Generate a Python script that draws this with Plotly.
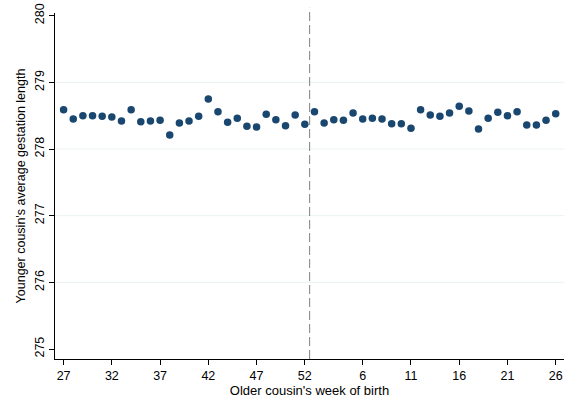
import plotly.graph_objects as go

# Older cousin's week of birth, running from week 27 through the year end to week 26
weeks = [27, 28, 29, 30, 31, 32, 33, 34, 35, 36, 37, 38, 39, 40, 41, 42, 43, 44, 45, 46,
         47, 48, 49, 50, 51, 52, 1, 2, 3, 4, 5, 6, 7, 8, 9, 10, 11, 12, 13, 14, 15, 16,
         17, 18, 19, 20, 21, 22, 23, 24, 25, 26]

# Younger cousin's average gestation length (days)
gestation = [278.59, 278.45, 278.50, 278.50, 278.49, 278.48, 278.42, 278.59, 278.41, 278.42,
             278.43, 278.21, 278.39, 278.42, 278.49, 278.75, 278.56, 278.40, 278.46, 278.34,
             278.33, 278.52, 278.44, 278.35, 278.51, 278.37,
             278.56, 278.39, 278.44, 278.43, 278.54, 278.45, 278.46, 278.45, 278.38, 278.38,
             278.31, 278.59, 278.51, 278.49, 278.54, 278.64, 278.57, 278.30, 278.46, 278.55,
             278.50, 278.56, 278.36, 278.36, 278.43, 278.53]

x_ticks = [27, 32, 37, 42, 47, 52, 6, 11, 16, 21, 26]
y_ticks = [275, 276, 277, 278, 279, 280]
y_grid = [276, 277, 278, 279]
cutoff_after_week = 52

FONT = "Liberation Sans, Arial, sans-serif"
NAVY = "#1a476f"

labels = [str(w) for w in weeks]

fig = go.Figure()
fig.add_trace(go.Scatter(
    x=labels, y=gestation, mode="markers",
    marker=dict(color=NAVY, size=7.5, line=dict(width=0)),
    hoverinfo="x+y", showlegend=False,
))

shapes = []
for g in y_grid:
    shapes.append(dict(type="line", xref="paper", yref="y", x0=0, x1=1, y0=g, y1=g,
                       line=dict(color="#eaf2f3", width=1), layer="below"))
cut_idx = labels.index(str(cutoff_after_week)) + 0.5
shapes.append(dict(type="line", xref="x", yref="paper", x0=cut_idx, x1=cut_idx,
                   y0=0, y1=1.015, line=dict(color="#808080", width=1, dash="9px,4px")))

fig.update_layout(
    width=564, height=400,
    margin=dict(l=55, r=0, t=13, b=41),
    paper_bgcolor="white", plot_bgcolor="white",
    font=dict(family=FONT, size=13, color="black"),
    shapes=shapes,
    xaxis=dict(
        type="category", categoryorder="array", categoryarray=labels,
        range=[-0.89, 51.86],
        tickmode="array", tickvals=[str(t) for t in x_ticks], ticktext=[str(t) for t in x_ticks],
        showline=True, linecolor="black", linewidth=1,
        ticks="outside", ticklen=5, tickcolor="black", tickwidth=1,
        showgrid=False, zeroline=False,
        tickfont=dict(size=12.5),
        title=dict(text="Older cousin's week of birth", font=dict(size=13), standoff=3),
    ),
    yaxis=dict(
        range=[274.85, 280.04],
        tickmode="array", tickvals=y_ticks,
        tickangle=-90,
        showline=True, linecolor="black", linewidth=1,
        ticks="outside", ticklen=5, tickcolor="black", tickwidth=1,
        showgrid=False, zeroline=False,
        tickfont=dict(size=12.5),
        title=dict(text="Younger cousin's average gestation length", font=dict(size=12.5), standoff=4),
    ),
)

fig.write_html("out.html")
